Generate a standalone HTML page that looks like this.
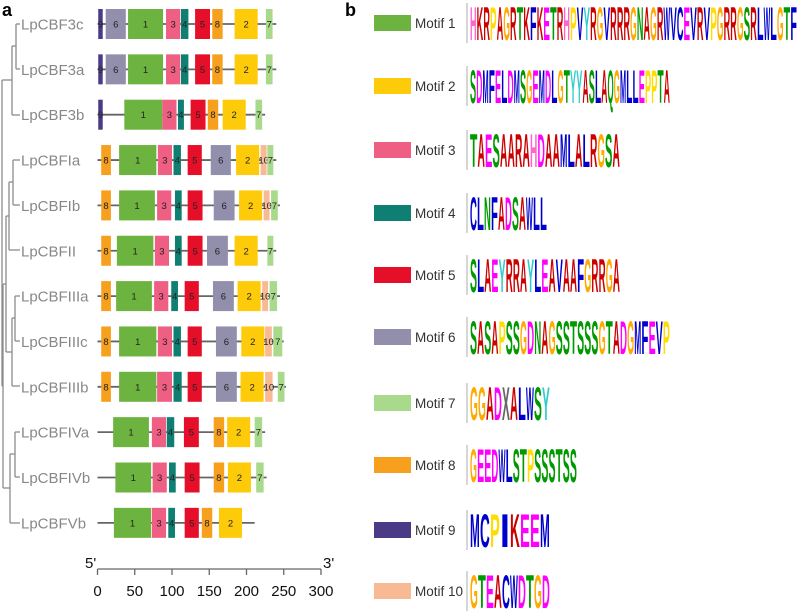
<!DOCTYPE html>
<html><head><meta charset="utf-8"><style>
html,body{margin:0;padding:0;background:#fff;}
svg{display:block;font-family:"Liberation Sans",sans-serif;}
</style></head><body>
<svg id="fig" width="800" height="615" viewBox="0 0 800 615" xmlns="http://www.w3.org/2000/svg">
<text x="2" y="16" font-size="18" font-weight="bold">a</text>
<text x="345" y="16" font-size="18" font-weight="bold">b</text>
<g id="tree"></g>
<g id="genes"></g>
<g id="axis"></g>
<g id="legend"></g>
</svg>
<script>
const genes = ["LpCBF3c","LpCBF3a","LpCBF3b","LpCBFIa","LpCBFIb","LpCBFII","LpCBFIIIa","LpCBFIIIc","LpCBFIIIb","LpCBFIVa","LpCBFIVb","LpCBFVb"];
const geneLengths = [240,240,225,240,245,240,245,250,253,225,227,211];
const motifsPerGene = [
 [[9,1,7],[6,11,38],[1,41,88],[3,92,111],[4,112,122],[5,131,151],[8,154,168],[2,184,215],[7,226,235]],
 [[9,1,7],[6,11,38],[1,41,88],[3,92,111],[4,112,122],[5,131,151],[8,154,168],[2,184,215],[7,226,235]],
 [[9,1,7],[1,36,87],[3,87,106],[4,108,116],[5,125,145],[8,148,162],[2,168,199],[7,212,221]],
 [[8,5,18],[1,29,79],[3,81,100],[4,102,112],[5,121,140],[6,152,179],[2,186,217],[10,219,227],[7,228,236]],
 [[8,5,18],[1,29,77],[3,80,99],[4,104,113],[5,121,141],[6,156,184],[2,190,221],[10,223,231],[7,233,242]],
 [[8,5,18],[1,26,75],[3,77,96],[4,104,113],[5,121,141],[6,147,175],[2,184,215],[7,228,236]],
 [[8,5,18],[1,25,73],[3,76,95],[4,99,108],[5,117,136],[6,155,183],[2,188,219],[10,221,229],[7,231,241]],
 [[8,5,18],[1,29,79],[3,81,100],[4,102,112],[5,121,140],[6,159,187],[2,193,224],[10,225,234],[7,236,248]],
 [[8,5,18],[1,29,79],[3,80,100],[4,102,113],[5,121,140],[6,159,187],[2,192,223],[10,225,235],[7,242,251]],
 [[1,21,69],[3,73,92],[4,93,103],[5,116,136],[8,156,170],[2,174,205],[7,211,221]],
 [[1,24,72],[3,74,93],[4,96,105],[5,117,137],[8,156,170],[2,175,206],[7,213,223]],
 [[1,22,72],[3,73,92],[4,95,104],[5,117,136],[8,140,154],[2,163,194]]
];
const axisTicks = [0,50,100,150,200,250,300];
const motifNames = ["Motif 1","Motif 2","Motif 3","Motif 4","Motif 5","Motif 6","Motif 7","Motif 8","Motif 9","Motif 10"];
const motifLogos = ["HKRPAGRTKFKETRHPVYRGVRRRGNAGRWVCEVRVPGRRGSRLWLGTF","SDMFELDMSGEMDLGTYYASLAQGMLLEPPTA","TAESAARAHDAAMLALRGSA","CLNFADSAWLL","SLAEYRRAYLEAVAAFGRRGA","SASAPSSGDNAGSSTSSSGTADGMFEVP","GGADXALWSY","GEEDWLSTPSSSTSS","MCPIKEEM","GTEACWDTGD"];
const logoWidths = [327,200,150,77,150,200,80,107,80,80];

const NS="http://www.w3.org/2000/svg";
const motifColors=["#6db33f","#fecb0a","#ef5f84","#0e7f72","#e60f2a","#918fab","#a9d98b","#f7a01e","#4b3a86","#f8b995"];
const aaColor={A:"#cc0000",R:"#cc0000",K:"#cc0000",H:"#ff66cc",D:"#ff00ff",E:"#ff00ff",N:"#009900",Q:"#009900",S:"#009900",T:"#009900",G:"#ffaa00",P:"#ffdd00",C:"#0000cc",F:"#0000cc",I:"#0000cc",L:"#0000cc",M:"#0000cc",V:"#0000cc",W:"#0000cc",Y:"#33cccc",X:"#666666"};
const x0=97.5, pxPerUnit=(321-97.5)/300;
const xs=v=>x0+v*pxPerUnit;
const rowY=i=>24+i*45.35;
function el(tag,attrs,parent){const e=document.createElementNS(NS,tag);for(const k in attrs)e.setAttribute(k,attrs[k]);parent.appendChild(e);return e;}

// tree
const tree=document.getElementById('tree');
const treeLines=[
 [16,24,16,69],[16,24,20,24],[16,69,20,69],
 [12,46,12,115],[12,46,16,46],[12,115,20,115],
 [13,160,13,205],[13,160,20,160],[13,205,20,205],
 [9,182,9,250],[9,182,13,182],[9,250,20,250],
 [15,296,15,341],[15,296,20,296],[15,341,20,341],
 [12,318,12,386],[12,318,15,318],[12,386,20,386],
 [15,432,15,477],[15,432,20,432],[15,477,20,477],
 [10,454,10,523],[10,454,15,454],[10,523,20,523],
 [6,216,6,352],[6,216,9,216],[6,352,12,352],
 [3,284,3,488],[3,284,6,284],[3,488,10,488],
 [2,80,2,386],[2,80,12,80],[2,386,3,386]
];
treeLines.forEach(l=>{const ln=el('line',{x1:l[0],y1:l[1],x2:l[2],y2:l[3],stroke:"#8c8c8c","stroke-width":1.3},tree);

});

const g=document.getElementById('genes');
genes.forEach((name,i)=>{
 const y=rowY(i);
 const row=el('g',{},g);
 
 
 const t=el('text',{x:21,y:y+5.5,"font-size":15,fill:"#888"},row);t.textContent=name;
 
 
 const ln=el('line',{x1:xs(0),y1:y,x2:xs(geneLengths[i]),y2:y,stroke:"#666","stroke-width":1.8},row);
 
 
 motifsPerGene[i].forEach(m=>{
  const r=el('rect',{x:xs(m[1]),y:y-15,width:xs(m[2])-xs(m[1]),height:30,fill:motifColors[m[0]-1]},row);
  
  
  const tt=el('text',{x:(xs(m[1])+xs(m[2]))/2,y:y+3.5,"font-size":9.5,"text-anchor":"middle",fill:"#222"},row);tt.textContent=m[0];
  
  
 });
});

// axis
const ax=document.getElementById('axis');
el('line',{x1:xs(0),y1:569,x2:xs(300),y2:569,stroke:"#666","stroke-width":1.3},ax);
axisTicks.forEach(v=>{
 el('line',{x1:xs(v),y1:569,x2:xs(v),y2:575,stroke:"#666","stroke-width":1.3},ax);
 const t=el('text',{x:xs(v),y:596,"font-size":15,"text-anchor":"middle",fill:"#111"},ax);t.textContent=v;
 
 
});
const t5=el('text',{x:85,y:568,"font-size":15,fill:"#111"},ax);t5.textContent="5'";


const t3=el('text',{x:323,y:568,"font-size":15,fill:"#111"},ax);t3.textContent="3'";



// legend + logos
const lg=document.getElementById('legend');
const legY=[23,86,150,213,275,337,403,465,530,591];
motifNames.forEach((nm,i)=>{
 const y=legY[i];
 const grp=el('g',{},lg);
 
 
 el('rect',{x:374,y:y-8,width:37,height:16,fill:motifColors[i]},grp);
 const t=el('text',{x:415,y:y+5,"font-size":13.5,fill:"#333"},grp);t.textContent=nm;
 const logo=el('g',{},grp);
 
 
 el('line',{x1:467,y1:y-20,x2:467,y2:y+20,stroke:"#999","stroke-width":0.8},logo);
 const s=motifLogos[i], w=logoWidths[i]/s.length, h=34;
 for(let k=0;k<s.length;k++){
  const ch=s[k];
  const lt=el('text',{x:470+k*w,y:y+17,"font-size":h/0.72,"font-weight":"bold",fill:aaColor[ch]||"#333",textLength:w*0.98,lengthAdjust:"spacingAndGlyphs"},logo);
  lt.textContent=ch;
 }
});
</script>
</body></html>
